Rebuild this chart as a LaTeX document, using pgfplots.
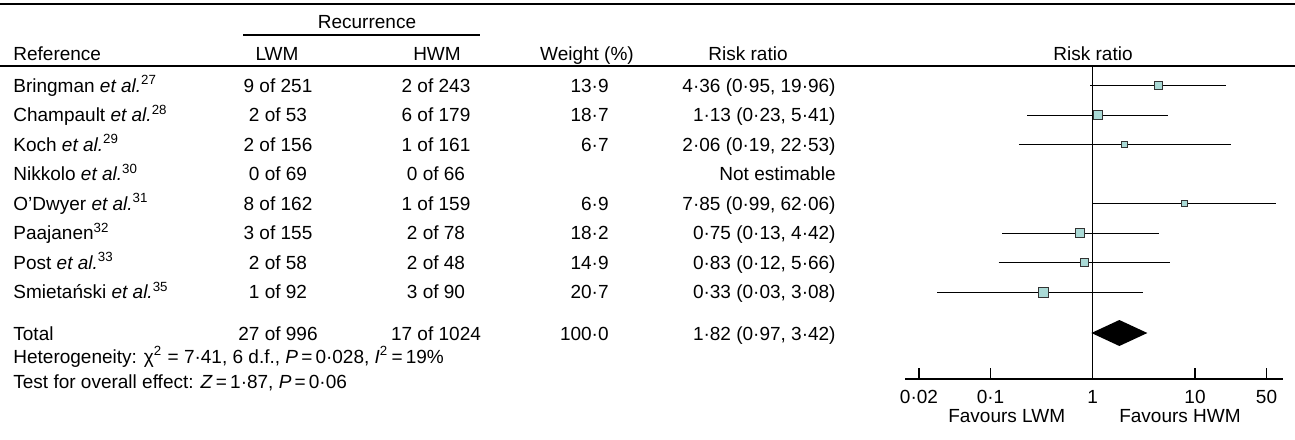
\documentclass[border=0pt]{standalone}
\usepackage{fontspec}
\setmainfont{Liberation Sans}
\usepackage{pgfplots}
\pgfplotsset{compat=1.18}
\definecolor{sq}{RGB}{170,218,214}
\newcommand{\ea}{\textit{et al.}}
\newcommand{\fs}{\fontsize{9.5}{11}\selectfont}
\begin{document}
\fs
\begin{tikzpicture}[x=0.5pt,y=-0.5pt,
  t/.style={inner sep=0pt, font=\fs}]
\useasboundingbox (0,0) rectangle (1295,439);
% rules
\draw[line width=0.6pt] (0,4) -- (1295,4);
\draw[line width=0.6pt] (0,66) -- (1295,66);
\draw[line width=0.6pt] (243,35) -- (480,35);
% headers
\node[t,anchor=base] at (367,28) {Recurrence};
\node[t,anchor=base west] at (13,60) {Reference};
\node[t,anchor=base] at (277,60) {LWM};
\node[t,anchor=base] at (437,60) {HWM};
\node[t,anchor=base] at (587,60) {Weight (\%)};
\node[t,anchor=base] at (748,60) {Risk ratio};
\node[t,anchor=base] at (1093,60) {Risk ratio};
% rows
\foreach \b/\r/\l/\h/\w/\rr in {
 92.2/{Bringman \ea\textsuperscript{27}}/9 of 251/2 of 243/13·9/{4·36 (0·95, 19·96)},
 121.7/{Champault \ea\textsuperscript{28}}/2 of 53/6 of 179/18·7/{1·13 (0·23, 5·41)},
 151.2/{Koch \ea\textsuperscript{29}}/2 of 156/1 of 161/6·7/{2·06 (0·19, 22·53)},
 180.7/{Nikkolo \ea\textsuperscript{30}}/0 of 69/0 of 66/{}/{Not estimable},
 210.2/{O'Dwyer \ea\textsuperscript{31}}/8 of 162/1 of 159/6·9/{7·85 (0·99, 62·06)},
 239.7/{Paajanen\textsuperscript{32}}/3 of 155/2 of 78/18·2/{0·75 (0·13, 4·42)},
 269.2/{Post \ea\textsuperscript{33}}/2 of 58/2 of 48/14·9/{0·83 (0·12, 5·66)},
 298.7/{Smietański \ea\textsuperscript{35}}/1 of 92/3 of 90/20·7/{0·33 (0·03, 3·08)},
 340/{Total}/27 of 996/17 of 1024/100·0/{1·82 (0·97, 3·42)}}{
  \node[t,anchor=base west] at (13,\b) {\r};
  \node[t,anchor=base] at (278,\b) {\l};
  \node[t,anchor=base] at (436,\b) {\h};
  \node[t,anchor=base east] at (609,\b) {\w};
  \node[t,anchor=base east] at (836,\b) {\rr};
}
\node[t,anchor=base west] at (13,363) {Heterogeneity: χ\textsuperscript{2} = 7·41, 6 d.f., \textit{P}\,=\,0·028, \textit{I}\textsuperscript{2}\,=\,19\%};
\node[t,anchor=base west] at (13,388) {Test for overall effect: \textit{Z}\,=\,1·87, \textit{P}\,=\,0·06};
\node[t,anchor=base] at (1006.7,422) {Favours LWM};
\node[t,anchor=base] at (1180,422) {Favours HWM};

\begin{axis}[at={(452.5pt,-189.5pt)}, anchor=south west, scale only axis,
  width=188.85pt, height=156.5pt, xmode=log, xmin=0.0146, xmax=72,
  ymin=-379, ymax=-66, axis x line*=bottom, axis y line=none, clip=false,
  xtick={0.02,0.1,1,10,50}, xticklabels={0·02,0·1,1,10,50},
  xminorticks=false, tick align=inside, major tick length=5.5pt,
  xticklabel style={font=\fs, inner sep=0pt, yshift=-5.5pt},
  axis line style={line width=0.6pt},
  every tick/.style={black, line width=0.6pt},
  ci/.style={black, line width=0.6pt, no marks},
  sqm/.style={only marks, mark=square*, mark options={fill=sq, draw=black!80, line width=0.5pt}}]
\addplot[ci] coordinates {(1,-66) (1,-379)};
\addplot[ci] coordinates {(0.95,-85.7) (19.96,-85.7)};
\addplot[ci] coordinates {(0.23,-115.2) (5.41,-115.2)};
\addplot[ci] coordinates {(0.19,-144.7) (22.53,-144.7)};
\addplot[ci] coordinates {(0.99,-203.7) (62.06,-203.7)};
\addplot[ci] coordinates {(0.13,-233.2) (4.42,-233.2)};
\addplot[ci] coordinates {(0.12,-262.7) (5.66,-262.7)};
\addplot[ci] coordinates {(0.03,-292.2) (3.08,-292.2)};
\addplot[sqm, mark size=2pt] coordinates {(4.36,-85.7)};
\addplot[sqm, mark size=2.35pt] coordinates {(1.13,-115.2)};
\addplot[sqm, mark size=1.5pt] coordinates {(2.06,-144.7)};
\addplot[sqm, mark size=1.45pt] coordinates {(7.85,-203.7)};
\addplot[sqm, mark size=2.35pt] coordinates {(0.75,-233.2)};
\addplot[sqm, mark size=2pt] coordinates {(0.83,-262.7)};
\addplot[sqm, mark size=2.5pt] coordinates {(0.33,-292.2)};
\addplot[draw=none, fill=black] coordinates {(0.97,-333) (1.82,-320) (3.42,-333) (1.82,-346) (0.97,-333)};
\end{axis}
\end{tikzpicture}
\end{document}
